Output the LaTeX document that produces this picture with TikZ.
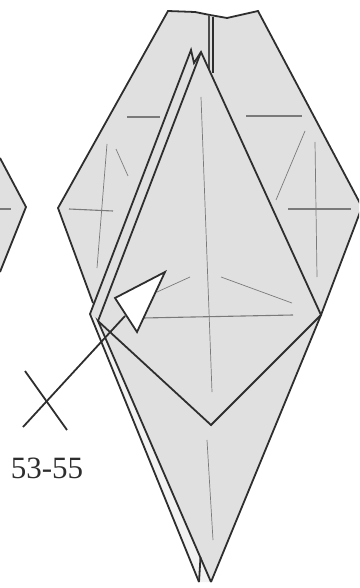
\documentclass[tikz,border=0pt]{standalone}
\usepackage{fontspec}
\setmainfont{Liberation Serif}
\usepackage{tikz}
\definecolor{OGpaper}{HTML}{E0E0E0}
\definecolor{OGstrip}{HTML}{F2F2F2}
\definecolor{OGink}{HTML}{2E2E2E}
\definecolor{OGcrease}{HTML}{7A7A7A}
\tikzset{
  ogedge/.style={line width=1.8pt, draw=OGink, line join=miter},
  ogfold/.style={line width=1.1pt, draw=OGcrease},
  ogthin/.style={line width=0.7pt, draw=OGcrease},
  oglbl/.style={font=\fontsize{31}{31}\selectfont, text=OGink, inner sep=0pt},
}
\begin{document}
\begin{tikzpicture}[x=1pt, y=-1pt]
  \useasboundingbox (0,0) rectangle (359,588);
  \clip (0,0) rectangle (359,588);
  %% Named corners
  \coordinate (tl) at (168,11);
  \coordinate (tr) at (258,11);
  \coordinate (west) at (58,208);
  \coordinate (east) at (362,207);
  \coordinate (tipa) at (191,50);
  \coordinate (tipb) at (201,52);
  \coordinate (notch) at (194,63);
  \coordinate (bend) at (90,314);
  \coordinate (bendb) at (98,321);
  \coordinate (kiter) at (321,315);
  \coordinate (kiteb) at (211,425);
  \coordinate (pta) at (199,582);
  \coordinate (ptb) at (211,582);
  %% Paper
  \fill[OGpaper] (tl) -- (195,12) -- (210,15) -- (227,18) -- (tr) -- (east)
    -- (kiter) -- (ptb) -- (bendb) -- (bend) -- (93,303) -- (west) -- cycle;
  \fill[OGstrip] (bend) -- (bendb) -- (ptb) -- (pta) -- cycle;
  \fill[OGpaper] (0,158) -- (26,207) -- (0,272) -- cycle;
  %% Creases
  \draw[ogfold] (0,209) -- (11,209);
  \draw[ogfold] (127,117) -- (160,117);
  \draw[ogthin] (107,144) -- (97,268);
  \draw[ogthin] (116,149) -- (128,176);
  \draw[ogfold] (69,209) -- (113,211);
  \draw[ogthin] (201,97) -- (212,392);
  \draw[ogfold] (246,116) -- (302,116);
  \draw[ogthin] (305,131) -- (276,200);
  \draw[ogfold] (288,209) -- (351,209);
  \draw[ogthin] (315,142) -- (317,277);
  \draw[ogthin] (157,292) -- (190,277);
  \draw[ogthin] (221,277) -- (292,303);
  \draw[ogfold] (143,318) -- (293,315);
  \draw[ogthin] (207,440) -- (213,540);
  %% Outline
  \draw[ogedge] (0,158) -- (26,207) -- (0,272);
  \draw[ogedge] (93,303) -- (west) -- (tl) -- (195,12) -- (210,15) -- (227,18)
    -- (tr) -- (east) -- (kiter) -- (ptb);
  \draw[ogedge, line width=2pt, draw=OGink!85] (208.5,15) -- (208.5,70);
  \draw[ogedge] (213,17) -- (213,73);
  %% Layers
  \draw[ogedge] (pta) -- (bend) -- (tipa) -- (notch) -- (tipb) -- (kiter) -- (kiteb) -- (bendb) -- (ptb);
  \draw[ogedge] (tipb) -- (bendb);
  \draw[ogedge] (200.5,557) -- (pta);
  %% Arrow
  \coordinate (arra) at (165,272);
  \coordinate (arrb) at (115,298);
  \coordinate (arrc) at (137,332);
  \coordinate (stem) at (125,316);
  \coordinate (stemend) at (23,427);
  \draw[ogedge, fill=white] (arra) -- (arrb) -- (arrc) -- cycle;
  \draw[ogedge] (stem) -- (stemend);
  \draw[ogedge] (25,371) -- (67,430);
  %% Label
  \node[oglbl] (steps) at (47,468) {53-55};
\end{tikzpicture}
\end{document}
